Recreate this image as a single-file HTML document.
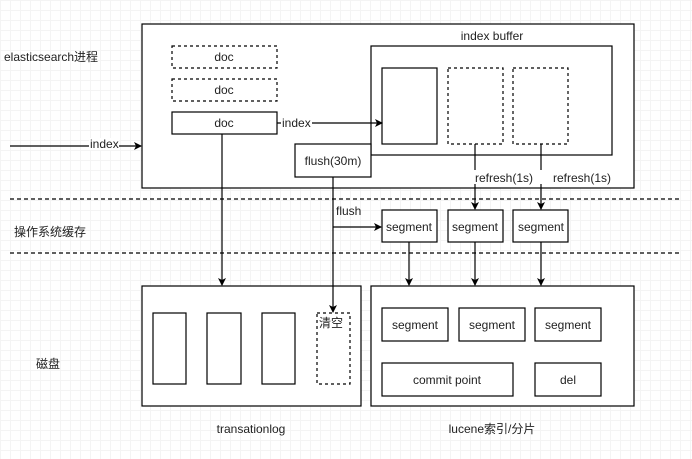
<!DOCTYPE html>
<html><head><meta charset="utf-8"><style>
body{margin:0;width:692px;height:454px;overflow:hidden;background:#fff;
background-image:linear-gradient(#f4f4f4 1px,transparent 1px),linear-gradient(90deg,#f4f4f4 1px,transparent 1px);
background-size:10px 10px;}
text{font-family:"Liberation Sans","Noto Sans CJK SC",sans-serif;font-size:12px;fill:#222;}
</style></head><body>
<svg width="692" height="454" xmlns="http://www.w3.org/2000/svg">
<defs><marker id="a" markerWidth="8" markerHeight="8" refX="7" refY="4" orient="auto" markerUnits="userSpaceOnUse"><path d="M0,0 L8,4 L0,8 L2,4z" fill="#000"/></marker></defs>
<g fill="#fff" stroke="#000" stroke-width="1.2">
<rect x="142" y="24" width="492" height="164"/>
<rect x="371" y="46" width="241" height="109"/>
<rect x="172" y="46" width="105" height="22" stroke-dasharray="3,3"/>
<rect x="172" y="79" width="105" height="22" stroke-dasharray="3,3"/>
<rect x="172" y="112" width="105" height="22"/>
<rect x="382" y="68" width="55" height="76"/>
<rect x="448" y="68" width="55" height="76" stroke-dasharray="3,3"/>
<rect x="513" y="68" width="55" height="76" stroke-dasharray="3,3"/>
<rect x="295" y="144" width="76" height="33"/>
<rect x="382" y="210" width="55" height="32"/>
<rect x="448" y="210" width="55" height="32"/>
<rect x="513" y="210" width="55" height="32"/>
<rect x="142" y="286" width="219" height="120"/>
<rect x="371" y="286" width="263" height="120"/>
<rect x="153" y="313" width="33" height="71"/>
<rect x="207" y="313" width="34" height="71"/>
<rect x="262" y="313" width="33" height="71"/>
<rect x="317" y="313" width="33" height="71" stroke-dasharray="3,3"/>
<rect x="382" y="308" width="66" height="33"/>
<rect x="459" y="308" width="66" height="33"/>
<rect x="535" y="308" width="66" height="33"/>
<rect x="382" y="363" width="131" height="33"/>
<rect x="535" y="363" width="66" height="33"/>
</g>
<g stroke="#000" stroke-width="1.2" fill="none">
<line x1="10" y1="199" x2="682" y2="199" stroke-dasharray="4,3"/>
<line x1="10" y1="253" x2="682" y2="253" stroke-dasharray="4,3"/>
<line x1="10" y1="146" x2="141" y2="146" marker-end="url(#a)"/>
<line x1="277" y1="123" x2="382" y2="123" marker-end="url(#a)"/>
<line x1="222" y1="134" x2="222" y2="285" marker-end="url(#a)"/>
<line x1="333" y1="177" x2="333" y2="312" marker-end="url(#a)"/>
<line x1="333" y1="227" x2="381" y2="227" marker-end="url(#a)"/>
<line x1="475" y1="144" x2="475" y2="209" marker-end="url(#a)"/>
<line x1="541" y1="144" x2="541" y2="209" marker-end="url(#a)"/>
<line x1="409" y1="242" x2="409" y2="285" marker-end="url(#a)"/>
<line x1="475" y1="242" x2="475" y2="285" marker-end="url(#a)"/>
<line x1="541" y1="242" x2="541" y2="285" marker-end="url(#a)"/>
</g>
<rect x="89" y="138" width="30" height="12" fill="#fff"/>
<rect x="281" y="117" width="31" height="12" fill="#fff"/>
<rect x="474" y="170" width="68" height="14" fill="#fff"/>
<g text-anchor="middle">
<text x="492" y="40">index buffer</text>
<text x="224" y="61">doc</text>
<text x="224" y="94">doc</text>
<text x="224" y="127">doc</text>
<text x="333" y="165">flush(30m)</text>
<text x="409" y="231">segment</text>
<text x="475" y="231">segment</text>
<text x="541" y="231">segment</text>
<text x="415" y="329">segment</text>
<text x="492" y="329">segment</text>
<text x="568" y="329">segment</text>
<text x="447" y="384">commit point</text>
<text x="568" y="384">del</text>
<text x="251" y="433">transationlog</text>
<text x="492" y="433">lucene索引/分片</text>
</g>
<text x="4" y="61">elasticsearch进程</text>
<text x="90" y="148">index</text>
<text x="282" y="127">index</text>
<text x="475" y="182">refresh(1s)</text>
<text x="553" y="182">refresh(1s)</text>
<text x="336" y="215">flush</text>
<text x="14" y="236">操作系统缓存</text>
<text x="36" y="368">磁盘</text>
<text x="319" y="327">清空</text>
</svg>
</body></html>
